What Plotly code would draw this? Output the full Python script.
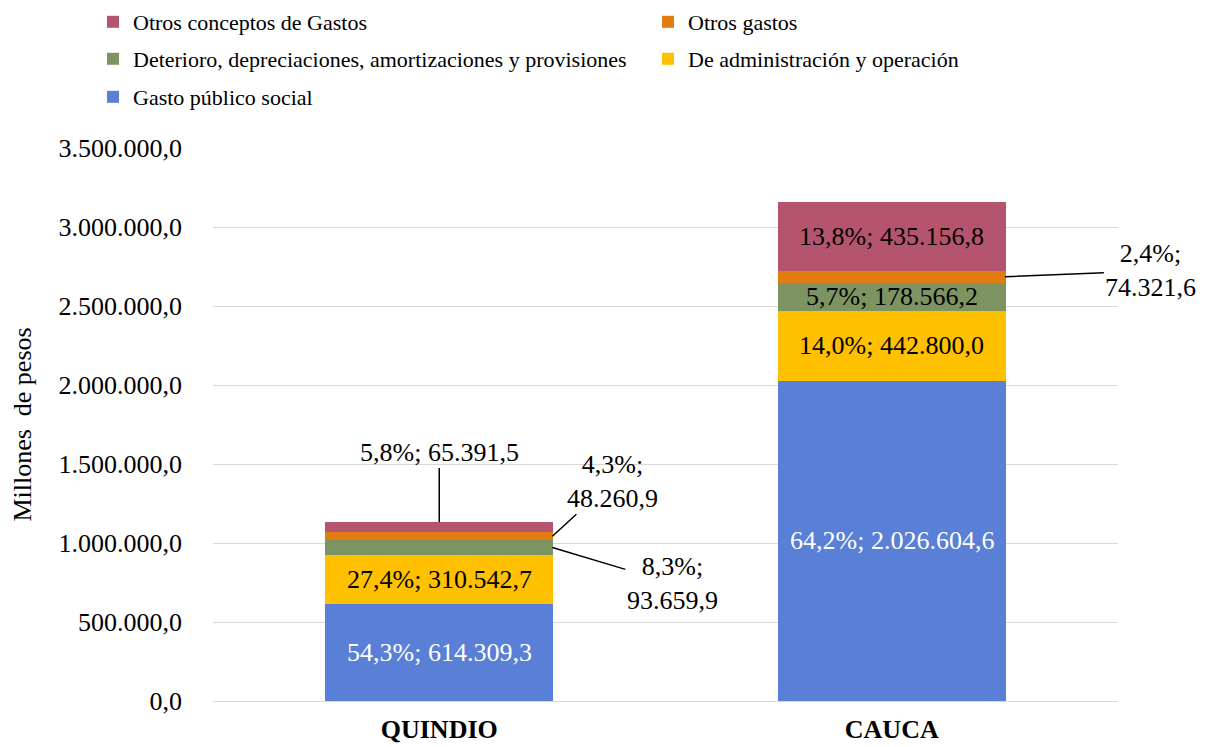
import plotly.graph_objects as go

# ---- data ----
categories = ["QUINDIO", "CAUCA"]
series_names = [
    "Gasto público social",
    "De administración y operación",
    "Deterioro, depreciaciones, amortizaciones y provisiones",
    "Otros gastos",
    "Otros conceptos de Gastos",
]
gasto_publico = [614309.3, 2026604.6]
administracion = [310542.7, 442800.0]
deterioro = [93659.9, 178566.2]
otros_gastos = [48260.9, 74321.6]
otros_conceptos = [65391.5, 435156.8]
y_ticks = [0, 500000, 1000000, 1500000, 2000000, 2500000, 3000000, 3500000]

series_values = [gasto_publico, administracion, deterioro, otros_gastos, otros_conceptos]

# ---- style ----
colors = ["#5A7FD6", "#FFC000", "#7D9462", "#E07C10", "#B5546F"]
FONT = "Liberation Serif, Times New Roman, serif"
# legend slot (pixel position of each entry, container coords)
legend_ids = ["legend5", "legend4", "legend3", "legend2", "legend"]
legend_pos = {
    "legend": (85, 14),
    "legend2": (640, 14),
    "legend3": (85, 51),
    "legend4": (640, 51),
    "legend5": (85, 89),
}

# label placement for small segments: (anchor, x offset in category units, ax, ay)
placement = {
    (4, 0): ("top", 0.0, 0, -70),
    (3, 0): ("mid", 0.25, 60, -55),
    (2, 0): ("mid", 0.25, 120, 36),
    (3, 1): ("mid", 0.25, 146, -6),
}
two_line = {(3, 0), (2, 0), (3, 1)}


def es_num(v):
    s = f"{v:,.1f}"
    return s.replace(",", "X").replace(".", ",").replace("X", ".")


def es_pct(p):
    return f"{p:.1f}".replace(".", ",") + "%"


totals = [sum(s[i] for s in series_values) for i in range(len(categories))]

fig = go.Figure()
for k, (name, vals) in enumerate(zip(series_names, series_values)):
    fig.add_trace(go.Bar(
        x=categories, y=vals, name=name,
        marker=dict(color=colors[k], line=dict(width=0)),
        legend=legend_ids[k],
    ))

annotations = []
for i, cat in enumerate(categories):
    base = 0.0
    for k, vals in enumerate(series_values):
        v = vals[i]
        pct = es_pct(100 * v / totals[i])
        sep = "<br>" if (k, i) in two_line else " "
        txt = f"{pct};{sep}{es_num(v)}"
        mid = base + v / 2
        if (k, i) in placement:
            anchor, dx, ax, ay = placement[(k, i)]
            yy = base + v if anchor == "top" else mid
            annotations.append(dict(
                x=i + dx, y=yy, xref="x", yref="y", text=txt,
                showarrow=True, arrowhead=0, arrowwidth=1.5, arrowcolor="black",
                ax=ax, ay=ay, standoff=0, startstandoff=0,
                font=dict(family=FONT, size=26, color="black"),
                align="center",
            ))
        else:
            annotations.append(dict(
                x=i, y=mid, xref="x", yref="y", text=txt, showarrow=False,
                font=dict(family=FONT, size=26, color="white" if k == 0 else "black"),
            ))
        base += v

legends = {}
for lid, (px, py) in legend_pos.items():
    legends[lid] = dict(
        orientation="h", xref="container", yref="container",
        xanchor="left", yanchor="middle",
        x=px / 1212, y=1 - py / 747,
        font=dict(family=FONT, size=22, color="black"),
        bgcolor="rgba(0,0,0,0)", itemclick=False, itemdoubleclick=False,
    )

fig.update_layout(
    width=1212, height=747,
    barmode="stack", bargap=0.496,
    separators=",.",
    paper_bgcolor="white", plot_bgcolor="white",
    margin=dict(l=205, r=102, t=140, b=54, autoexpand=False),
    font=dict(family=FONT, size=26, color="black"),
    annotations=annotations,
    showlegend=True,
    **legends,
    xaxis=dict(
        range=[-0.5, 1.5], automargin=False,
        showgrid=False, showline=False, ticks="",
        tickfont=dict(family=FONT, size=26, color="black", weight="bold"),
        ticklabelstandoff=10,
    ),
    yaxis=dict(
        range=[0, 3500000], tickvals=y_ticks, tickformat=",.1f",
        automargin=False,
        showgrid=True, gridcolor="#D9D9D9", gridwidth=1,
        zeroline=True, zerolinecolor="#D9D9D9", zerolinewidth=1,
        showline=False, ticks="", ticklabelstandoff=30,
        tickfont=dict(family=FONT, size=26, color="black"),
        title=dict(text="Millones\u00a0 de pesos", standoff=30,
                   font=dict(family=FONT, size=26, color="black")),
    ),
)

fig.write_html("out.html")
